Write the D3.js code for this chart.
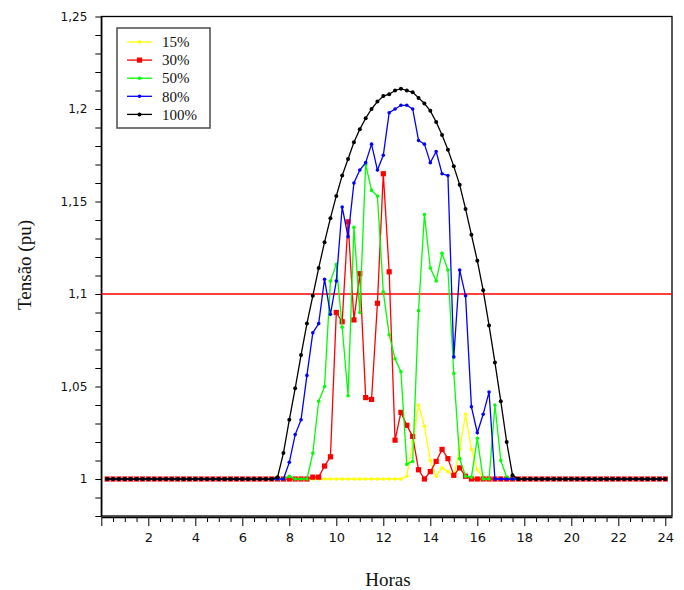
<!DOCTYPE html>
<html>
<head>
<meta charset="utf-8">
<script src="https://cdn.jsdelivr.net/npm/d3@7/dist/d3.min.js"></script>
<style>
  body { margin: 0; background: #fff; }
  svg { display: block; }
</style>
</head>
<body>
<svg id="chart" width="684" height="590"></svg>
<script>
// horas (passo de 15 min)
const hours = [
  0.25,0.5,0.75,1,1.25,1.5,1.75,2,2.25,2.5,2.75,3,3.25,3.5,3.75,4,
  4.25,4.5,4.75,5,5.25,5.5,5.75,6,6.25,6.5,6.75,7,7.25,7.5,7.75,8,
  8.25,8.5,8.75,9,9.25,9.5,9.75,10,10.25,10.5,10.75,11,11.25,11.5,11.75,12,
  12.25,12.5,12.75,13,13.25,13.5,13.75,14,14.25,14.5,14.75,15,15.25,15.5,15.75,16,
  16.25,16.5,16.75,17,17.25,17.5,17.75,18,18.25,18.5,18.75,19,19.25,19.5,19.75,20,
  20.25,20.5,20.75,21,21.25,21.5,21.75,22,22.25,22.5,22.75,23,23.25,23.5,23.75,24
];

// tensão (pu) por nível de penetração
const v15 = [
  1,1,1,1,1,1,1,1,1,1,1,1,1,1,1,1,1,1,1,1,1,1,1,1,1,1,1,1,1,
  1,1,1,1,1,1,1,1,1,1,1,1,1,1,1,1,1,1,1,1,1,1,
  1.0015,1.020,1.040,1.0285,1.010,1.0015,1.006,1.004,1.0015,1.016,1.035,1.016,1.005,1.001,
  1,1,1,1,1,1,
  1,1,1,1,1,1,1,1,1,1,1,1,1,1,1,1,1,1,1,1,1,1,1,1,1
];
const v30 = [
  1,1,1,1,1,1,1,1,1,1,1,1,1,1,1,1,1,1,1,1,1,1,1,1,1,1,1,1,1,
  1,1,1,1,1,1,1.001,1.001,1.007,1.012,1.090,1.085,1.139,1.086,1.111,1.044,1.043,1.095,
  1.165,1.112,1.021,1.036,1.029,1.023,1.005,1.000,1.004,1.0095,1.016,1.011,1.002,1.006,1.0015,
  1,1,1,1,1,1,1,1,1,
  1,1,1,1,1,1,1,1,1,1,1,1,1,1,1,1,1,1,1,1,1,1,1,1,1
];
const v50 = [
  1,1,1,1,1,1,1,1,1,1,1,1,1,1,1,1,1,1,1,1,1,1,1,1,1,1,1,1,1,
  1,1,1.0015,1,1,1,1.014,1.042,1.050,1.107,1.116,1.082,1.045,1.136,1.090,1.170,1.156,1.153,
  1.101,1.078,1.065,1.058,1.008,1.0095,1.091,1.143,1.114,1.107,1.122,1.113,1.057,1.011,1.0015,
  1.001,1.022,1,1,1.040,1.010,1.001,1,1,
  1,1,1,1,1,1,1,1,1,1,1,1,1,1,1,1,1,1,1,1,1,1,1,1,1
];
const v80 = [
  1,1,1,1,1,1,1,1,1,1,1,1,1,1,1,1,1,1,1,1,1,1,1,1,1,1,1,1,1,
  1,1,1.009,1.024,1.032,1.056,1.079,1.084,1.108,1.089,1.107,1.147,1.131,1.160,1.167,1.171,1.181,1.167,
  1.175,1.198,1.200,1.202,1.202,1.200,1.183,1.181,1.171,1.177,1.165,1.164,1.066,1.113,1.099,
  1.039,1.025,1.035,1.047,1,1,1,1,1,
  1,1,1,1,1,1,1,1,1,1,1,1,1,1,1,1,1,1,1,1,1,1,1,1,1
];
const v100 = [
  1,1,1,1,1,1,1,1,1,1,1,1,1,1,1,1,1,1,1,1,1,1,1,1,1,1,1,1,1,
  1.001,1.014,1.032,1.049,1.067,1.084,1.099,1.114,1.128,1.141,1.153,1.164,1.173,1.182,1.189,1.195,1.200,1.204,
  1.207,1.208,1.210,1.211,1.210,1.209,1.206,1.203,1.199,1.193,1.186,1.178,1.169,1.159,1.146,
  1.132,1.118,1.102,1.083,1.063,1.042,1.020,1.002,1.000,
  1,1,1,1,1,1,1,1,1,1,1,1,1,1,1,1,1,1,1,1,1,1,1,1,1
];

const seriesNames  = ['15%', '30%', '50%', '80%', '100%'];
const seriesValues = [v15, v30, v50, v80, v100];
const seriesColors = ['#ffff00', '#ff0000', '#00ff00', '#0000ff', '#000000'];
const limitValue = 1.1;

const yMajorTicks = [1, 1.05, 1.1, 1.15, 1.2, 1.25];
const yMajorLabels = ['1', '1,05', '1,1', '1,15', '1,2', '1,25'];
const xMajorTicks = [0, 2, 4, 6, 8, 10, 12, 14, 16, 18, 20, 22, 24];

(function(){
  const svg = d3.select('#chart');
  const L = 101.3, R = 672, T = 16.5, B = 516;

  const x = d3.scaleLinear().domain([0, 24.285]).range([L, R]);
  const y = d3.scaleLinear().domain([0.98, 1.25]).range([B, T]);

  // --- frame -----------------------------------------------------------------
  svg.append('rect')
    .attr('x', L).attr('y', T).attr('width', R - L).attr('height', B - T)
    .attr('fill', 'none').attr('stroke', '#000').attr('stroke-width', 1.3);

  // --- y axis ----------------------------------------------------------------
  const yMinor = d3.range(98, 126).map(d => d / 100);
  const labelOf = d => {
    const i = yMajorTicks.findIndex(m => Math.abs(m - d) < 1e-6);
    return i >= 0 ? yMajorLabels[i] : '';
  };
  const yAxis = svg.append('g')
    .attr('transform', `translate(${L},0)`)
    .call(d3.axisLeft(y).tickValues(yMinor).tickSize(6).tickSizeOuter(0)
      .tickPadding(8).tickFormat(labelOf));
  yAxis.select('.domain').attr('stroke-width', 1.3);
  yAxis.selectAll('text').attr('font-family', 'DejaVu Sans, Verdana, sans-serif')
    .attr('font-size', 12).attr('fill', '#111');

  // --- x axis ----------------------------------------------------------------
  const xMinor = d3.range(0, 49).map(d => d / 2).filter(d => d % 2 !== 0);
  const xAxisY = B + 1;
  const xm = svg.append('g')
    .attr('transform', `translate(0,${xAxisY})`)
    .call(d3.axisBottom(x).tickValues(xMinor).tickSize(5).tickSizeOuter(0).tickFormat(''));
  xm.select('.domain').attr('stroke-width', 1.3);
  const xM = svg.append('g')
    .attr('transform', `translate(0,${xAxisY})`)
    .call(d3.axisBottom(x).tickValues(xMajorTicks).tickSize(9).tickSizeOuter(0)
      .tickPadding(7).tickFormat(d => d === 0 ? '' : d));
  xM.select('.domain').remove();
  xM.selectAll('text').attr('font-family', 'DejaVu Sans, Verdana, sans-serif')
    .attr('font-size', 13).attr('fill', '#111');

  // --- limite 1,1 pu ---------------------------------------------------------
  svg.append('line')
    .attr('x1', L).attr('x2', R).attr('y1', y(limitValue)).attr('y2', y(limitValue))
    .attr('stroke', '#ff0000').attr('stroke-width', 1.3);

  // --- series ----------------------------------------------------------------
  const line = d3.line().x((d, i) => x(hours[i])).y(d => y(d));
  const order = [0, 1, 2, 3, 4];

  function drawMarker(g, k, cx, cy){
    if (k === 1) {
      g.append('rect').attr('x', cx - 2.6).attr('y', cy - 2.6)
        .attr('width', 5.2).attr('height', 5.2).attr('fill', seriesColors[k]);
    } else {
      g.append('circle').attr('cx', cx).attr('cy', cy)
        .attr('r', k === 4 ? 2 : 1.8).attr('fill', seriesColors[k]);
    }
  }

  order.forEach(k => {
    const vals = seriesValues[k];
    const g = svg.append('g');
    g.append('path').datum(vals)
      .attr('d', line)
      .attr('fill', 'none')
      .attr('stroke', seriesColors[k])
      .attr('stroke-width', 1.3);
    vals.forEach((v, i) => drawMarker(g, k, x(hours[i]), y(v)));
  });

  // --- legend ----------------------------------------------------------------
  const lg = svg.append('g');
  lg.append('rect')
    .attr('x', 117).attr('y', 28).attr('width', 93).attr('height', 100)
    .attr('fill', '#fff').attr('stroke', '#555').attr('stroke-width', 1.6);
  seriesNames.forEach((name, k) => {
    const ly = 42 + k * 18.1;
    lg.append('line').attr('x1', 127).attr('x2', 152).attr('y1', ly).attr('y2', ly)
      .attr('stroke', seriesColors[k]).attr('stroke-width', 1.3);
    drawMarker(lg, k, 139.5, ly);
    lg.append('text').attr('x', 162).attr('y', ly).attr('dy', '0.35em')
      .attr('font-family', 'Liberation Serif, Times New Roman, serif')
      .attr('font-size', 15).attr('fill', '#111').text(name);
  });

  // --- titles ----------------------------------------------------------------
  svg.append('text')
    .attr('transform', `translate(24,265) rotate(-90)`)
    .attr('text-anchor', 'middle').attr('dy', '0.35em')
    .attr('font-family', 'Liberation Serif, Times New Roman, serif')
    .attr('font-size', 19).attr('fill', '#111')
    .text('Tensão (pu)');
  svg.append('text')
    .attr('x', 388).attr('y', 586)
    .attr('text-anchor', 'middle')
    .attr('font-family', 'Liberation Serif, Times New Roman, serif')
    .attr('font-size', 19).attr('fill', '#111')
    .text('Horas');
})();
</script>
</body>
</html>
